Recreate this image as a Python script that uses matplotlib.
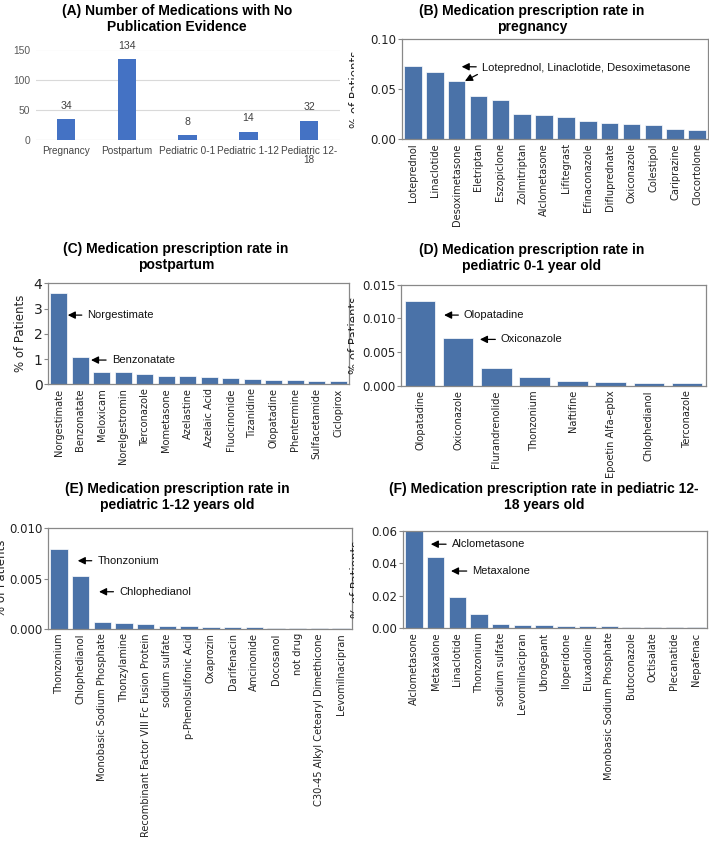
import matplotlib
matplotlib.use('Agg')
import matplotlib.pyplot as plt
from matplotlib.patches import Rectangle

# (A) counts
a_cats = ['Pregnancy', 'Postpartum', 'Pediatric 0-1', 'Pediatric 1-12', 'Pediatric 12-\n18']
a_vals = [34, 134, 8, 14, 32]

# (B) pregnancy
b_names = ['Loteprednol', 'Linaclotide', 'Desoximetasone', 'Eletriptan', 'Eszopiclone',
           'Zolmitriptan', 'Alclometasone', 'Lifitegrast', 'Efinaconazole', 'Difluprednate',
           'Oxiconazole', 'Colestipol', 'Cariprazine', 'Clocortolone']
b_vals = [0.0733, 0.0667, 0.0580, 0.0427, 0.0387, 0.0250, 0.0243, 0.0217, 0.0177, 0.0163,
          0.0150, 0.0140, 0.0100, 0.0093]

# (C) postpartum
c_names = ['Norgestimate', 'Benzonatate', 'Meloxicam', 'Norelgestromin', 'Terconazole',
           'Mometasone', 'Azelastine', 'Azelaic Acid', 'Fluocinonide', 'Tizanidine',
           'Olopatadine', 'Phentermine', 'Sulfacetamide', 'Ciclopirox']
c_vals = [3.63, 1.07, 0.50, 0.475, 0.41, 0.33, 0.33, 0.30, 0.25, 0.20, 0.185, 0.17, 0.145, 0.12]

# (D) pediatric 0-1
d_names = ['Olopatadine', 'Oxiconazole', 'Flurandrenolide', 'Thonzonium', 'Naftifine',
           'Epoetin Alfa-epbx', 'Chlophedianol', 'Terconazole']
d_vals = [0.01263, 0.00706, 0.00271, 0.00128, 0.00079, 0.00059, 0.00049, 0.00044]

# (E) pediatric 1-12
e_names = ['Thonzonium', 'Chlophedianol', 'Monobasic Sodium Phosphate', 'Thonzylamine',
           'Recombinant Factor VIII Fc Fusion Protein', 'sodium sulfate', 'p-Phenolsulfonic Acid',
           'Oxaprozin', 'Darifenacin', 'Amcinonide', 'Docosanol', 'not drug',
           'C30-45 Alkyl Cetearyl Dimethicone', 'Levomilnacipran']
e_vals = [0.00791, 0.00526, 0.00066, 0.00060, 0.00047, 0.00034, 0.00025, 0.00022, 0.00019,
          0.00016, 0.00013, 0.00011, 0.00010, 0.00008]

# (F) pediatric 12-18
f_names = ['Alclometasone', 'Metaxalone', 'Linaclotide', 'Thonzonium', 'sodium sulfate',
           'Levomilnacipran', 'Ubrogepant', 'Iloperidone', 'Eluxadoline',
           'Monobasic Sodium Phosphate', 'Butoconazole', 'Octisalate', 'Plecanatide', 'Nepafenac']
f_vals = [0.0597, 0.0437, 0.0193, 0.0088, 0.0029, 0.0022, 0.0018, 0.0016, 0.0014, 0.0012,
          0.0011, 0.0010, 0.0010, 0.0009]

W, H = 709, 842
fig = plt.figure(figsize=(W / 100, H / 100), dpi=100)


def box(l, t, r, b):
    return [l / W, 1 - b / H, (r - l) / W, (b - t) / H]


def title(cx, top, txt):
    fig.text(cx / W, 1 - top / H, txt, ha='center', va='top', fontsize=10,
             fontweight='bold', family='Liberation Sans', linespacing=1.15)


BAR = '#4a72a8'
ARIAL = 'Liberation Sans'


def rate_panel(rect, names, vals, ymax, yticks, ticklabels, lab_x):
    ax = fig.add_axes(box(*rect))
    ax.bar(range(len(vals)), vals, width=0.8, color=BAR, edgecolor='white', linewidth=0.5)
    ax.set_xlim(-0.5, len(vals) - 0.5)
    ax.set_ylim(0, ymax)
    ax.set_yticks(yticks)
    ax.set_yticklabels(ticklabels)
    ax.set_xticks(range(len(names)))
    ax.set_xticklabels(names, rotation=90, fontsize=7.1, color='#222222')
    ax.tick_params(axis='y', labelsize=8.5, length=3, width=0.8, color='#888888',
                   labelcolor='#222222', pad=1)
    ax.tick_params(axis='x', length=0, pad=3)
    for s in ax.spines.values():
        s.set_color('#888888')
        s.set_linewidth(0.9)
    ax.set_ylabel('% of Patients', fontsize=8.5, color='#222222')
    ax.yaxis.set_label_coords(lab_x, 0.5)
    return ax


def note(ax, txt, head, textpos):
    ax.annotate(txt, xy=head, xytext=textpos, va='center', ha='left', fontsize=8,
                family=ARIAL, color='#111111',
                arrowprops=dict(arrowstyle='-|>', color='black', lw=0.9,
                                mutation_scale=11, shrinkA=2, shrinkB=0))


# ---- (A) ----
title(177, 4, '(A) Number of Medications with No\nPublication Evidence')
axa = fig.add_axes(box(35.6, 49.5, 339.6, 140))
axa.bar(range(len(a_vals)), a_vals, width=0.305, color='#4472C4', zorder=3)
axa.set_xlim(-0.5, len(a_vals) - 0.5)
axa.set_ylim(0, 150)
axa.set_yticks([0, 50, 100, 150])
axa.yaxis.grid(True, color='#d9d9d9', lw=0.8, zorder=0)
for s in axa.spines.values():
    s.set_visible(False)
axa.axhline(0, color='#cfcfcf', lw=0.8, zorder=1)
axa.set_xticks(range(len(a_cats)))
axa.set_xticklabels(a_cats, fontsize=7.2, family=ARIAL, color='#444444', linespacing=0.95)
axa.set_yticklabels(['0', '50', '100', '150'], fontsize=7.4, family=ARIAL, color='#595959')
axa.tick_params(length=0, pad=4)
for i, v in enumerate(a_vals):
    axa.annotate(str(v), (i, v), xytext=(0, 6), textcoords='offset points', ha='center',
                 va='bottom', fontsize=7.6, family=ARIAL, color='#404040')

# ---- (B) ----
title(532, 4, '(B) Medication prescription rate in\npregnancy')
axb = rate_panel((402, 39, 708, 139), b_names, b_vals, 0.10, [0, 0.05, 0.10],
                 ['0.00', '0.05', '0.10'], -0.13)
note(axb, 'Loteprednol, Linaclotide, Desoximetasone', (2.23, 0.0723), (3.15, 0.0712))
axb.annotate('', xy=(2.38, 0.058), xytext=(2.95, 0.0645),
             arrowprops=dict(arrowstyle='-|>', color='black', lw=0.9, mutation_scale=11,
                             shrinkA=0, shrinkB=0))

# ---- (C) ----
title(176, 242, '(C) Medication prescription rate in\npostpartum')
axc = rate_panel((48, 283.3, 349, 384.3), c_names, c_vals, 4, [0, 1, 2, 3, 4],
                 ['0', '1', '2', '3', '4'], -0.07)
axc.tick_params(axis='y', labelsize=10)
note(axc, 'Norgestimate', (0.42, 2.74), (1.33, 2.74))
note(axc, 'Benzonatate', (1.5, 0.96), (2.46, 0.96))

# ---- (D) ----
title(532, 243, '(D) Medication prescription rate in\npediatric 0-1 year old')
axd = rate_panel((401, 284.7, 706, 386), d_names, d_vals, 0.015,
                 [0, 0.005, 0.010, 0.015], ['0.000', '0.005', '0.010', '0.015'], -0.13)
note(axd, 'Olopatadine', (0.63, 0.0105), (1.15, 0.0105))
note(axd, 'Oxiconazole', (1.57, 0.0069), (2.12, 0.0069))

# ---- (E) ----
title(177, 482, '(E) Medication prescription rate in\npediatric 1-12 years old')
axe = rate_panel((48, 528.3, 352, 629), e_names, e_vals, 0.010, [0, 0.005, 0.010],
                 ['0.000', '0.005', '0.010'], -0.13)
note(axe, 'Thonzonium', (0.87, 0.00678), (1.77, 0.00678))
note(axe, 'Chlophedianol', (1.85, 0.0037), (2.77, 0.0037))

# ---- (F) ----
title(544, 482, '(F) Medication prescription rate in pediatric 12-\n18 years old')
axf = rate_panel((403, 530.7, 707, 628.3), f_names, f_vals, 0.06,
                 [0, 0.02, 0.04, 0.06], ['0.00', '0.02', '0.04', '0.06'], -0.13)
note(axf, 'Alclometasone', (0.78, 0.0517), (1.74, 0.0517))
note(axf, 'Metaxalone', (1.71, 0.0352), (2.69, 0.0352))

# the right-hand panels were cropped at their left edge in the original figure
fig.add_artist(Rectangle((353.5 / W, 0), 6.5 / W, 1, transform=fig.transFigure,
                         facecolor='white', edgecolor='none', zorder=10))

fig.savefig('out.png', dpi=100)
